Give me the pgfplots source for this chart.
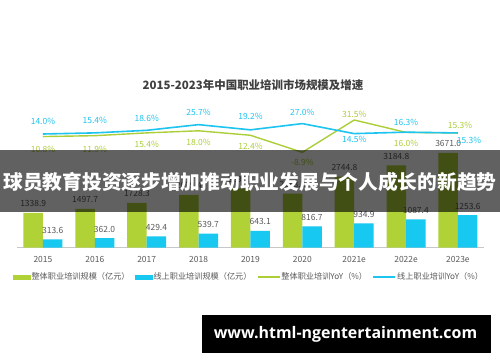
\documentclass[border=0pt]{standalone}
\usepackage{pgfplots}
\usepackage{pgfplotstable}
\pgfplotsset{compat=1.18}
\usepackage{fontspec}
\setmainfont{Noto Sans CJK SC}
\newfontfamily\urlfont{Open Sans}
\definecolor{cGreen}{RGB}{176,210,54}
\definecolor{cBlue}{RGB}{23,200,241}
\definecolor{lGreen}{RGB}{172,206,56}
\definecolor{lBlue}{RGB}{30,196,240}
\definecolor{txt}{RGB}{89,89,89}
\definecolor{ttl}{RGB}{64,64,64}

\pgfplotstableread{
x tot onl
0 1338.9 313.6
1 1497.7 362.0
2 1728.3 429.4
3 2039.4 539.7
4 2292.3 643.1
5 2088.3 816.7
6 2744.8 934.9
7 3184.8 1087.4
8 3671.0 1253.6
}\bars

\pgfplotstableread{
x v lab dx dy
0 10.8 10.8 0 -12.5
1 11.9 11.9 0 -13.5
2 15.4 15.4 0 -12
3 18.0 18.0 0 -12
4 12.4 12.4 0 -11.5
5 -8.9 -8.9 0 -10
6 31.5 31.5 0 6
7 16.0 16.0 0 -10.5
8 15.3 15.3 2 8
}\gyoy

\pgfplotstableread{
x v lab dx dy
0 14.0 14.0 0 12.5
1 15.4 15.4 0 12
2 18.6 18.6 0 12
3 25.7 25.7 0 12
4 19.2 19.2 0 13.5
5 27.0 27.0 0 11.5
6 14.5 14.5 0 -6
7 16.3 16.3 0 10
8 15.3 15.3 11 -7
}\cyoy

\begin{document}
\begin{tikzpicture}
\useasboundingbox (0,0) rectangle (500bp,-362bp);
\fill[white] (0,0) rectangle (500bp,-362bp);
\node[font=\bfseries\fontsize{11.5}{13}\selectfont, text=ttl] at (253bp,-85bp) {2015-2023年中国职业培训市场规模及增速};

\begin{axis}[
  at={(17bp,-247.5bp)}, anchor=south west,
  scale only axis, width=466.875bp, height=147.5bp,
  xmin=-0.5, xmax=8.5, ymin=0, ymax=5717,
  axis x line*=bottom, axis y line=none,
  x axis line style={draw=black!22, line width=0.8bp, -},
  xtick={0,...,8},
  xticklabels={2015,2016,2017,2018,2019,2020,2021e,2022e,2023e},
  major tick length=0pt,
  xticklabel style={anchor=center, yshift=-11.5bp, font=\fontsize{8.5}{10}\selectfont, text=txt},
  /pgf/number format/assume math mode=true,
  clip=false,
  ybar, bar width=19.5bp,
  nodes near coords={\pgfmathprintnumber[fixed,fixed zerofill,precision=1,1000 sep={},assume math mode=true]{\pgfplotspointmeta}},
  every node near coord/.append style={anchor=center, yshift=9bp, font=\fontsize{8.5}{10}\selectfont, text=txt},
]
\addplot[fill=cGreen, draw=none, bar shift=-9.75bp] table[x=x,y=tot]{\bars};
\addplot[fill=cBlue, draw=none, bar shift=9.75bp] table[x=x,y=onl]{\bars};
\end{axis}

\begin{axis}[
  at={(17bp,-247.5bp)}, anchor=south west,
  scale only axis, width=466.875bp, height=147.5bp,
  xmin=-0.5, xmax=8.5, ymin=-127.875, ymax=56.5,
  hide axis, clip=false,
  legend columns=4,
  legend style={at={(-0.0086,-0.2)}, anchor=west, draw=none, fill=none,
    font=\fontsize{8.2}{9}\selectfont, text=txt, inner xsep=0pt, inner ysep=0pt,
    /tikz/every even column/.append style={column sep=4.5bp},
    nodes={inner xsep=1bp}},
  legend cell align=left,
]
\addplot[lGreen, line width=1.4bp, line join=round, forget plot] table[x=x,y=v]{\gyoy};
\addplot[lBlue, line width=1.6bp, line join=round, forget plot] table[x=x,y=v]{\cyoy};
\addplot[draw=none, mark=none, forget plot, point meta=explicit symbolic,
  visualization depends on={\thisrow{dx} \as \dx},
  visualization depends on={\thisrow{dy} \as \dy},
  nodes near coords={\pgfplotspointmeta\%},
  every node near coord/.append style={anchor=center, xshift=\dx*1bp, yshift=\dy*1bp, font=\fontsize{8.5}{10}\selectfont, text=lGreen}]
  table[x=x,y=v,meta=lab]{\gyoy};
\addplot[draw=none, mark=none, forget plot, point meta=explicit symbolic,
  visualization depends on={\thisrow{dx} \as \dx},
  visualization depends on={\thisrow{dy} \as \dy},
  nodes near coords={\pgfplotspointmeta\%},
  every node near coord/.append style={anchor=center, xshift=\dx*1bp, yshift=\dy*1bp, font=\fontsize{8.5}{10}\selectfont, text=lBlue}]
  table[x=x,y=v,meta=lab]{\cyoy};
\addlegendimage{legend image code/.code={\fill[cGreen] (0bp,-2.25bp) rectangle (17bp,2.25bp);}}
\addlegendimage{legend image code/.code={\fill[cBlue] (0bp,-2.25bp) rectangle (17bp,2.25bp);}}
\addlegendimage{legend image code/.code={\draw[lGreen, line width=1.4bp] (0bp,0bp) -- (22bp,0bp);}}
\addlegendimage{legend image code/.code={\draw[lBlue, line width=1.6bp] (0bp,0bp) -- (22bp,0bp);}}
\legend{整体职业培训规模（亿元）,线上职业培训规模（亿元）,整体职业培训YoY（\%）,线上职业培训YoY（\%）}
\end{axis}

\fill[black, opacity=0.62] (0,-150bp) rectangle (500bp,-212bp);
\node[font=\bfseries\fontsize{19.8}{22}\selectfont, text=white] at (250bp,-182bp) {球员教育投资逐步增加推动职业发展与个人成长的新趋势};
\fill[black] (202bp,-315bp) rectangle (491bp,-352.5bp);
\node[font=\urlfont\bfseries\fontsize{16}{18}\selectfont, text=white] at (345.5bp,-334.5bp) {www.html-ngentertainment.com};
\end{tikzpicture}
\end{document}
